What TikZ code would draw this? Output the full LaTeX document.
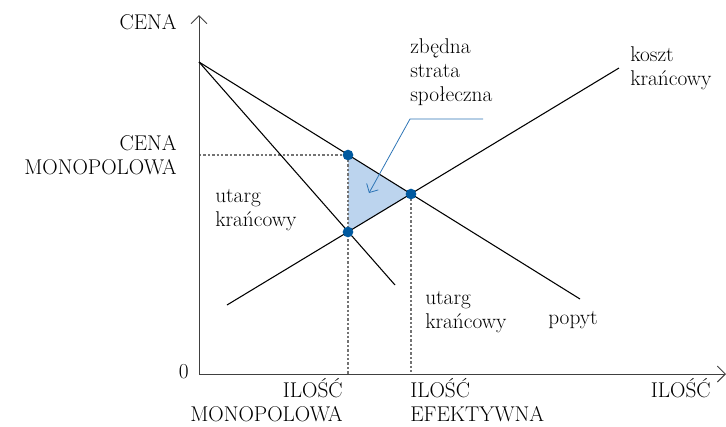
\documentclass[tikz,border=0pt]{standalone}
\usepackage{fontspec}
\usetikzlibrary{arrows.meta,positioning}
\definecolor{areablue}{HTML}{BCD4EE}
\definecolor{dotblue}{HTML}{00599F}
\definecolor{lineblue}{HTML}{2E75B6}

\begin{document}
\begin{tikzpicture}[x=0.75pt,y=-0.75pt,
    lbl/.style={font=\fontsize{16}{18}\selectfont,inner sep=0pt},
    axis/.style={black!75,line width=0.7pt},
    curve/.style={line width=0.8pt},
    guide/.style={black!55,line width=0.8pt,dash pattern=on 1.8pt off 1.5pt},
    dot/.style={circle,fill=dotblue,inner sep=0pt,minimum size=8pt},
    callout/.style={lineblue,line width=0.6pt},
    >={Straight Barb[length=6pt,width=12pt]}]
  \useasboundingbox (0,0) rectangle (726,426);
  % axes
  \coordinate (O) at (199,374);
  \coordinate (ytop) at (199,15);
  \coordinate (xend) at (726,374);
  % curve ends
  \coordinate (A) at (199,62);
  \coordinate (dend) at (580,299);
  \coordinate (mrend) at (395,285);
  \coordinate (mcstart) at (227,305);
  \coordinate (mcend) at (619,68);
  % points
  \coordinate (P) at (348,155);
  \coordinate (M) at (348,232);
  \coordinate (E) at (411,194);
  \coordinate (pm) at (199,155);
  \coordinate (qm) at (348,374);
  \coordinate (qe) at (411,374);
  % deadweight loss
  \fill[areablue] (P) -- (E) -- (M) -- cycle;
  \draw[guide] (pm) -- (P) -- (qm);
  \draw[guide] (E) -- (qe);
  \draw[axis,->] (O) -- (ytop);
  \draw[axis,->] (O) -- (xend);
  \draw[curve] (A) -- (dend);
  \draw[curve] (A) -- (mrend);
  \draw[curve] (mcstart) -- (mcend);
  \node[dot] (dP) at (P) {};
  \node[dot] (dM) at (M) {};
  \node[dot] (dE) at (E) {};
  % callout
  \coordinate (c1) at (483,119);
  \coordinate (c2) at (410,119);
  \coordinate (ctip) at (369,193);
  \draw[callout,->,>={Straight Barb[length=5pt,width=10pt]}] (c1) -- (c2) -- (ctip);
  % labels
  \node[lbl,anchor=east] (cena) at (177,22) {CENA};
  \node[lbl,anchor=east,align=right] (cenam) at (177,155) {CENA\\MONOPOLOWA};
  \node[lbl,anchor=east] (zero) at (189,372) {0};
  \node[lbl,anchor=north east,align=right] (ilm) at (343,378) {ILOŚĆ\\MONOPOLOWA};
  \node[lbl,anchor=north west,align=left] (ile) at (410,378) {ILOŚĆ\\EFEKTYWNA};
  \node[lbl,anchor=north east] (il) at (711,378) {ILOŚĆ};
  \node[lbl,anchor=west,align=left] (mr1) at (215,210) {utarg\\krańcowy};
  \node[lbl,anchor=west,align=left] (mr2) at (425,312) {utarg\\krańcowy};
  \node[lbl,anchor=west] (popyt) at (548,320) {popyt};
  \node[lbl,anchor=west,align=left] (mc) at (630,68) {koszt\\krańcowy};
  \node[lbl,anchor=west,align=left] (dwl) at (410,72) {zbędna\\strata\\społeczna};
\end{tikzpicture}
\end{document}
